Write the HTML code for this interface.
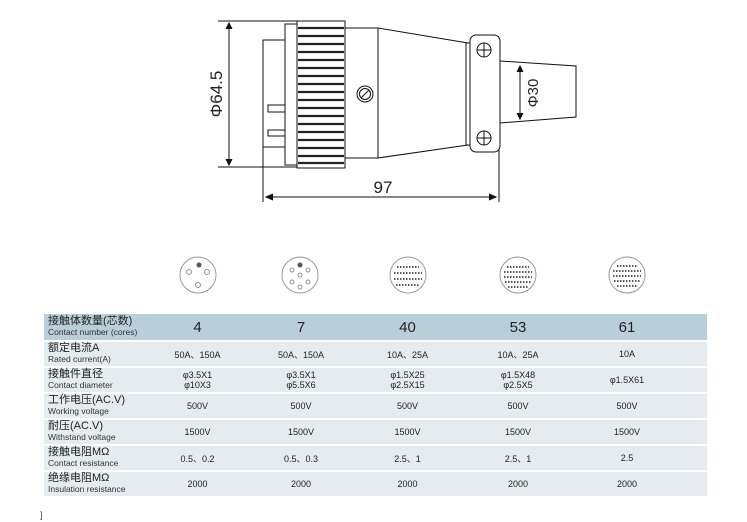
<!DOCTYPE html>
<html><head><meta charset="utf-8"><style>
body{margin:0;width:747px;height:522px;background:#fff;position:relative;overflow:hidden;font-family:"Liberation Sans","Noto Sans CJK SC",sans-serif;}
table{position:absolute;left:44px;top:312px;width:663px;border-collapse:separate;border-spacing:0 2px;table-layout:fixed;}
td{padding:0;font-size:9px;color:#222;text-align:center;background:#e4ecef;}
td.l{text-align:left;padding-left:4px;line-height:11px;font-size:11px;}
td.l small{font-size:8.5px;color:#333;}
td.last{padding-right:26px;}
tr.h td{background:#b8cfd9;height:26px;font-size:15px;}
tr.h td.l{font-size:11px;}
tr td{height:24px;}
</style></head><body>
<svg width="747" height="310" style="position:absolute;left:0;top:0" stroke="#111" fill="none" stroke-width="1">
<line x1="218" y1="21" x2="345" y2="21"/><line x1="218" y1="167" x2="297" y2="167"/>
<line x1="229" y1="25" x2="229" y2="163"/>
<path d="M226,29 L229,23 L232,29 M226,159 L229,165 L232,159" fill="#111"/>
<text x="222" y="94" transform="rotate(-90 222 94)" font-size="17" fill="#222" stroke="none" text-anchor="middle" font-family="Liberation Sans">Φ64.5</text>
<rect x="263" y="40" width="22" height="107"/>
<rect x="268" y="105" width="17" height="7"/><rect x="268" y="130" width="17" height="6"/>
<rect x="285" y="24" width="12" height="141"/>
<rect x="297" y="21" width="48" height="147"/>
<g stroke-width="2.2" stroke="#222">
<line x1="298" y1="28" x2="344" y2="28"/><line x1="298" y1="36" x2="344" y2="36"/><line x1="298" y1="44" x2="344" y2="44"/><line x1="298" y1="52" x2="344" y2="52"/><line x1="298" y1="60" x2="344" y2="60"/><line x1="298" y1="68" x2="344" y2="68"/><line x1="298" y1="76" x2="344" y2="76"/><line x1="298" y1="84" x2="344" y2="84"/><line x1="298" y1="92" x2="344" y2="92"/><line x1="298" y1="100" x2="344" y2="100"/><line x1="298" y1="108" x2="344" y2="108"/><line x1="298" y1="116" x2="344" y2="116"/><line x1="298" y1="124" x2="344" y2="124"/><line x1="298" y1="132" x2="344" y2="132"/><line x1="298" y1="140" x2="344" y2="140"/><line x1="298" y1="148" x2="344" y2="148"/><line x1="298" y1="156" x2="344" y2="156"/><line x1="298" y1="163" x2="344" y2="163"/>
</g>
<rect x="345" y="28" width="33" height="130"/>
<path d="M378,28 L468,43 M378,158 L468,145"/>
<rect x="466" y="43" width="4" height="102"/>
<rect x="470" y="35" width="30" height="117" rx="6"/>
<circle cx="484" cy="50" r="7"/><path d="M477,50h14M484,43v14"/>
<circle cx="484" cy="138" r="7"/><path d="M477,138h14M484,131v14"/>
<circle cx="365" cy="94" r="8"/><circle cx="365" cy="94" r="5.5"/><path d="M361,98 L369,90"/>
<path d="M500,61 L576,66 L576,117 L500,123"/>
<line x1="520" y1="68" x2="520" y2="117"/>
<path d="M517,72 L520,66 L523,72 M517,113 L520,119 L523,113" fill="#111"/>
<text x="538" y="93" transform="rotate(-90 538 93)" font-size="15" fill="#222" stroke="none" text-anchor="middle" font-family="Liberation Sans">Φ30</text>
<line x1="263" y1="147" x2="263" y2="202"/><line x1="499" y1="150" x2="499" y2="202"/>
<line x1="268" y1="197" x2="494" y2="197"/>
<path d="M273,194 L266,197 L273,200 M489,194 L496,197 L489,200" fill="#111"/>
<text x="383" y="193" font-size="17" fill="#222" stroke="none" text-anchor="middle" font-family="Liberation Sans">97</text>
<g stroke="#999">
<circle cx="198" cy="275" r="18"/><circle cx="300" cy="275" r="18"/><circle cx="408" cy="275" r="18"/><circle cx="518" cy="275" r="18"/><circle cx="627" cy="275" r="18"/>
</g>
<g fill="#555" stroke="none">
<circle cx="199" cy="265" r="2.5"/><circle cx="300" cy="265" r="2.5"/>
</g>
<g stroke="#777" stroke-width="0.8">
<circle cx="189" cy="272" r="2.5"/><circle cx="207" cy="272" r="2.5"/><circle cx="198" cy="285" r="2.5"/>
<circle cx="292" cy="270" r="2"/><circle cx="308" cy="270" r="2"/><circle cx="300" cy="275" r="2"/><circle cx="292" cy="282" r="2"/><circle cx="308" cy="282" r="2"/><circle cx="300" cy="287" r="2"/>
</g>
<g stroke="#555" stroke-width="2" stroke-dasharray="1.5 1.5">
<line x1="397" y1="267" x2="419" y2="267"/><line x1="394" y1="273" x2="422" y2="273"/><line x1="394" y1="279" x2="422" y2="279"/><line x1="396" y1="285" x2="420" y2="285"/>
<line x1="507" y1="267" x2="529" y2="267"/><line x1="504" y1="272" x2="532" y2="272"/><line x1="504" y1="277" x2="532" y2="277"/><line x1="505" y1="282" x2="531" y2="282"/><line x1="508" y1="287" x2="528" y2="287"/>
<line x1="617" y1="266" x2="637" y2="266"/><line x1="613" y1="271" x2="641" y2="271"/><line x1="613" y1="276" x2="641" y2="276"/><line x1="614" y1="281" x2="640" y2="281"/><line x1="617" y1="286" x2="637" y2="286"/>
</g>
</svg>
<table>
<colgroup><col style="width:101px"><col style="width:105px"><col style="width:102px"><col style="width:111px"><col style="width:110px"><col style="width:134px"></colgroup>
<tr class="h"><td class="l">接触体数量(芯数)<br><small>Contact number (cores)</small></td><td>4</td><td>7</td><td>40</td><td>53</td><td class="last">61</td></tr>
<tr><td class="l">额定电流A<br><small>Rated current(A)</small></td><td>50A、150A</td><td>50A、150A</td><td>10A、25A</td><td>10A、25A</td><td class="last">10A</td></tr>
<tr><td class="l">接触件直径<br><small>Contact diameter</small></td><td>φ3.5X1<br>φ10X3</td><td>φ3.5X1<br>φ5.5X6</td><td>φ1.5X25<br>φ2.5X15</td><td>φ1.5X48<br>φ2.5X5</td><td class="last">φ1.5X61</td></tr>
<tr><td class="l">工作电压(AC.V)<br><small>Working voltage</small></td><td>500V</td><td>500V</td><td>500V</td><td>500V</td><td class="last">500V</td></tr>
<tr><td class="l">耐压(AC.V)<br><small>Withstand voltage</small></td><td>1500V</td><td>1500V</td><td>1500V</td><td>1500V</td><td class="last">1500V</td></tr>
<tr><td class="l">接触电阻MΩ<br><small>Contact resistance</small></td><td>0.5、0.2</td><td>0.5、0.3</td><td>2.5、1</td><td>2.5、1</td><td class="last">2.5</td></tr>
<tr><td class="l">绝缘电阻MΩ<br><small>Insulation resistance</small></td><td>2000</td><td>2000</td><td>2000</td><td>2000</td><td class="last">2000</td></tr>
</table>
<div style="position:absolute;left:40px;top:510px;font-size:9px;color:#444">]</div>
</body></html>
